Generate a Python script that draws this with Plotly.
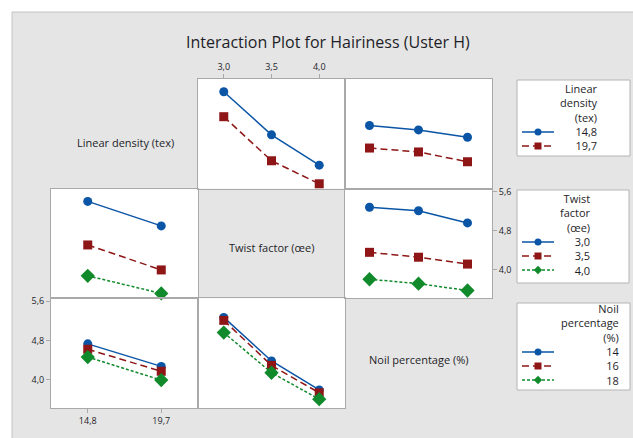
import plotly.graph_objects as go
from plotly.subplots import make_subplots

# ---------------- data ----------------
linear_density = [14.8, 19.7]
twist_factor = [3.0, 3.5, 4.0]
noil_pct = [14, 16, 18]

ld_labels = ["14,8", "19,7"]
tw_labels = ["3,0", "3,5", "4,0"]
np_labels = ["14", "16", "18"]

# Linear density lines
ld_vs_twist_148 = [5.40, 4.52, 3.90]
ld_vs_twist_197 = [4.89, 3.99, 3.52]
ld_vs_noil_148 = [4.71, 4.62, 4.47]
ld_vs_noil_197 = [4.25, 4.17, 3.97]
# Twist factor lines
tw_vs_ld_30 = [5.40, 4.90]
tw_vs_ld_35 = [4.51, 4.00]
tw_vs_ld_40 = [3.88, 3.52]
tw_vs_noil_30 = [5.28, 5.21, 4.96]
tw_vs_noil_35 = [4.36, 4.26, 4.12]
tw_vs_noil_40 = [3.81, 3.72, 3.58]
# Noil percentage lines
np_vs_ld_14 = [4.73, 4.27]
np_vs_ld_16 = [4.62, 4.17]
np_vs_ld_18 = [4.46, 3.99]
np_vs_tw_14 = [5.27, 4.38, 3.79]
np_vs_tw_16 = [5.21, 4.29, 3.73]
np_vs_tw_18 = [4.96, 4.14, 3.60]

y_ticks = [4.0, 4.8, 5.6]
y_labels = ["4,0", "4,8", "5,6"]

# ---------------- styles ----------------
W, H = 633, 438
L, R, T, B = 51, 141, 79, 30
PW, PH = W - L - R, H - T - B

BLUE = "#0a55a6"
RED = "#8e1616"
GREEN = "#118a2c"
FONT = "Open Sans"
TXT = "#1e1e28"
FRAME = "#a9a9a9"
BG = "#e5e5e5"

styles = [
    dict(color=BLUE, symbol="circle", size=9, dash="solid"),
    dict(color=RED, symbol="square", size=9, dash="7px,4px"),
    dict(color=GREEN, symbol="diamond", size=11, dash="3px,2px"),
]


def px(x):
    return (x - L) / PW


def py(y):
    return (H - B - y) / PH


fig = make_subplots(rows=3, cols=3, horizontal_spacing=0, vertical_spacing=0)


def add_lines(row, col, xs, series):
    for i, ys in enumerate(series):
        s = styles[i]
        fig.add_trace(
            go.Scatter(
                x=xs, y=ys, mode="lines+markers", showlegend=False,
                line=dict(color=s["color"], width=1.5, dash=s["dash"]),
                marker=dict(color=s["color"], symbol=s["symbol"], size=s["size"]),
                cliponaxis=False,
            ),
            row=row, col=col,
        )


add_lines(1, 2, twist_factor, [ld_vs_twist_148, ld_vs_twist_197])
add_lines(1, 3, noil_pct, [ld_vs_noil_148, ld_vs_noil_197])
add_lines(2, 1, linear_density, [tw_vs_ld_30, tw_vs_ld_35, tw_vs_ld_40])
add_lines(2, 3, noil_pct, [tw_vs_noil_30, tw_vs_noil_35, tw_vs_noil_40])
add_lines(3, 1, linear_density, [np_vs_ld_14, np_vs_ld_16, np_vs_ld_18])
add_lines(3, 2, twist_factor, [np_vs_tw_14, np_vs_tw_16, np_vs_tw_18])

col_ranges = {1: [12.35, 22.15], 2: [2.73, 4.27], 3: [13.0, 19.0]}
y_range = [3.42, 5.66]

base_ax = dict(showgrid=False, zeroline=False, showline=True, mirror=True,
               linecolor=FRAME, linewidth=1, ticks="", showticklabels=False,
               tickfont=dict(family=FONT, size=9, color=TXT),
               ticklen=4, tickcolor=FRAME, fixedrange=True)

for r in range(1, 4):
    for c in range(1, 4):
        fig.update_xaxes(row=r, col=c, range=col_ranges[c], **base_ax)
        fig.update_yaxes(row=r, col=c, range=y_range, **base_ax)

tick_on = dict(ticks="outside", showticklabels=True)
fig.update_xaxes(row=1, col=2, side="top", tickvals=twist_factor, ticktext=tw_labels, **tick_on)
fig.update_xaxes(row=3, col=1, tickvals=linear_density, ticktext=ld_labels, **tick_on)
fig.update_xaxes(row=3, col=3, tickvals=noil_pct, ticktext=np_labels, **tick_on)
fig.update_yaxes(row=1, col=1, tickvals=y_ticks, ticktext=y_labels, **tick_on)
fig.update_yaxes(row=2, col=3, side="right", tickvals=y_ticks, ticktext=y_labels, **tick_on)
fig.update_yaxes(row=3, col=1, tickvals=y_ticks, ticktext=y_labels, **tick_on)

shapes = []
# outer gray region
shapes.append(dict(type="rect", xref="paper", yref="paper", layer="below",
                   x0=px(12), x1=px(W + 10), y0=py(H + 10), y1=py(12),
                   fillcolor=BG, line=dict(color="#c4c4c4", width=1)))
# panel backgrounds
for r in range(1, 4):
    for c in range(1, 4):
        k = (r - 1) * 3 + c
        sfx = "" if k == 1 else str(k)
        shapes.append(dict(type="rect", xref=f"x{sfx} domain", yref=f"y{sfx} domain",
                           layer="below", x0=0, x1=1, y0=0, y1=1,
                           fillcolor=BG if r == c else "white", line=dict(width=0)))

annotations = []
annotations.append(dict(text="Interaction Plot for Hairiness (Uster H)", xref="paper", yref="paper",
                        x=px(328), y=py(42), showarrow=False, xanchor="center", yanchor="middle",
                        font=dict(family=FONT, size=16, color=TXT)))

diag = [("Linear density (tex)", 125, 142), ("Twist factor (œe)", 271, 247),
        ("Noil percentage (%)", 419, 359)]
for t, x, y in diag:
    annotations.append(dict(text=t, xref="paper", yref="paper", x=px(x), y=py(y),
                            showarrow=False, xanchor="center", yanchor="middle",
                            font=dict(family=FONT, size=11, color=TXT)))

# legends
legends = [
    dict(box=(517, 80, 630, 156), right=599, title=["Linear", "density", "(tex)"],
         items=ld_labels, iy=[132, 146]),
    dict(box=(517, 190, 629, 283), right=592, title=["Twist", "factor", "(œe)"],
         items=tw_labels, iy=[242, 256, 270]),
    dict(box=(517, 303, 630, 390), right=620, title=["Noil", "percentage", "(%)"],
         items=np_labels, iy=[352, 366, 380]),
]
for lg in legends:
    x0, y0, x1, y1 = lg["box"]
    shapes.append(dict(type="rect", xref="paper", yref="paper", x0=px(x0), x1=px(x1),
                       y0=py(y1), y1=py(y0), fillcolor="white", line=dict(color="#b4b4b4", width=1),
                       layer="below"))
    lines = lg["title"] + lg["items"]
    n = len(lines)
    step = 14.3
    first = lg["iy"][-1] - step * (n - 1)
    center = first + step * (n - 1) / 2
    annotations.append(dict(text="<br>".join(lines), xref="paper", yref="paper",
                            x=px(lg["right"] + 1), y=py(center), showarrow=False,
                            xanchor="right", yanchor="middle", align="right",
                            font=dict(family=FONT, size=11, color=TXT)))
    for i, y in enumerate(lg["iy"]):
        s = styles[i]
        shapes.append(dict(type="line", xref="paper", yref="paper", x0=px(522), x1=px(554),
                           y0=py(y), y1=py(y), line=dict(color=s["color"], width=1.5, dash=s["dash"]),
                           layer="above"))
        cx, cy, rr = 538, y, 3.5
        if s["symbol"] == "circle":
            shapes.append(dict(type="circle", xref="paper", yref="paper", x0=px(cx - rr), x1=px(cx + rr),
                               y0=py(cy + rr), y1=py(cy - rr), fillcolor=s["color"],
                               line=dict(width=0), layer="above"))
        elif s["symbol"] == "square":
            shapes.append(dict(type="rect", xref="paper", yref="paper", x0=px(cx - rr), x1=px(cx + rr),
                               y0=py(cy + rr), y1=py(cy - rr), fillcolor=s["color"],
                               line=dict(width=0), layer="above"))
        else:
            d = 4.2
            path = (f"M {px(cx - d)} {py(cy)} L {px(cx)} {py(cy - d)} L {px(cx + d)} {py(cy)} "
                    f"L {px(cx)} {py(cy + d)} Z")
            shapes.append(dict(type="path", xref="paper", yref="paper", path=path,
                               fillcolor=s["color"], line=dict(width=0), layer="above"))

fig.update_layout(
    width=W, height=H,
    margin=dict(l=L, r=R, t=T, b=B, pad=0),
    paper_bgcolor="white",
    plot_bgcolor="rgba(0,0,0,0)",
    shapes=shapes,
    annotations=annotations,
    showlegend=False,
    font=dict(family=FONT, color=TXT),
)

fig.write_html("out.html", config={"displayModeBar": False},
               post_script="document.body.style.margin='0';")
